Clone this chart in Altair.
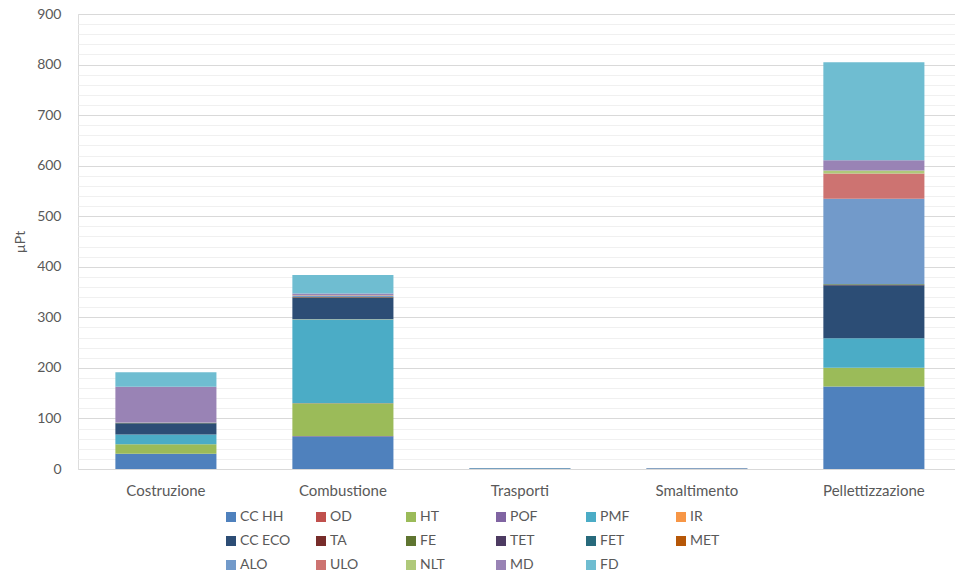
import altair as alt
import pandas as pd

categories = ["Costruzione", "Combustione", "Trasporti", "Smaltimento", "Pellettizzazione"]
series = ["CC HH", "OD", "HT", "POF", "PMF", "IR", "CC ECO", "TA", "FE", "TET",
          "FET", "MET", "ALO", "ULO", "NLT", "MD", "FD"]
colors = ["#4F81BD", "#C0504D", "#9BBB59", "#8064A2", "#4BACC6", "#F79646",
          "#2C4D75", "#772C2A", "#5F7530", "#4D3B62", "#276A7C", "#B65708",
          "#729ACA", "#CD7371", "#AFC97A", "#9983B5", "#6FBDD1"]

# values per series, in category order
cc_hh  = [30, 65, 1.0, 0.8, 163]
od     = [0.1, 0.2, 0, 0, 0.3]
ht     = [19, 65, 0.2, 0.1, 37]
pof    = [0.1, 0.2, 0, 0, 0.2]
pmf    = [19, 166, 0.2, 0.1, 58]
ir     = [0.1, 0.2, 0, 0, 0.2]
cc_eco = [22, 42, 0.4, 0.3, 105]
ta     = [0.3, 1.0, 0, 0, 0.5]
fe     = [0.3, 0.5, 0, 0, 1.0]
tet    = [0.1, 0.1, 0, 0, 0.1]
fet    = [0.1, 0.1, 0, 0, 0.1]
met    = [0.1, 0.1, 0, 0, 0.1]
alo    = [1.0, 2.0, 0.1, 0.1, 169]
ulo    = [0.2, 1.0, 0, 0, 50]
nlt    = [0.1, 0.5, 0, 0, 6]
md     = [70, 3, 0, 0, 20]
fd     = [29, 37, 0.3, 0.2, 194]

values = [cc_hh, od, ht, pof, pmf, ir, cc_eco, ta, fe, tet, fet, met, alo, ulo, nlt, md, fd]

rows = []
for i, (s, vals) in enumerate(zip(series, values)):
    for c, v in zip(categories, vals):
        rows.append({"cat": c, "serie": s, "val": v, "ord": i})
df = pd.DataFrame(rows)

FONT = "Lato"
GRAY = "#595959"

bars = alt.Chart(df).mark_bar().encode(
    x=alt.X("cat:N", sort=categories,
            scale=alt.Scale(paddingInner=0.429, paddingOuter=0.192, align=0.55),
            axis=alt.Axis(title=None, labelAngle=0, domain=False, ticks=False,
                          labelPadding=14, labelFontSize=15, labelColor=GRAY,
                          labelFont=FONT, grid=False)),
    y=alt.Y("val:Q", stack="zero",
            scale=alt.Scale(domain=[0, 900], nice=False),
            axis=alt.Axis(title="µPt", values=list(range(0, 901, 20)),
                          labelExpr="datum.value % 100 === 0 ? datum.label : ''",
                          labelOverlap=False, labelBound=False,
                          gridColor={"condition": {"test": "datum.value % 100 === 0", "value": "#D9D9D9"},
                                     "value": "#F0F0F0"},
                          gridWidth=1, domain=False, ticks=False, labelPadding=17,
                          labelFontSize=14, labelColor=GRAY, labelFont=FONT,
                          titleFont=FONT, titleFontSize=14, titleFontWeight="normal",
                          titleColor=GRAY, titlePadding=9)),
    color=alt.Color("serie:N", sort=series,
                    scale=alt.Scale(domain=series, range=colors),
                    legend=alt.Legend(title=None, orient="none", legendX=146, legendY=496,
                                      direction="horizontal",
                                      columns=6, symbolType="square", symbolSize=100,
                                      symbolStrokeWidth=0, labelFontSize=14, labelColor=GRAY,
                                      labelFont=FONT, columnPadding=23, rowPadding=10,
                                      gridAlign="all", padding=0, labelOffset=2)),
    order=alt.Order("ord:Q", sort="ascending"),
)

chart = bars.properties(
    width=877, height=455,
    autosize=alt.AutoSizeParams(type="none"),
    padding={"left": 78, "top": 14, "right": 0, "bottom": 105},
).configure_view(stroke=None).configure(background="white")

chart.save("out.html", embed_options={"renderer": "svg", "actions": False})
